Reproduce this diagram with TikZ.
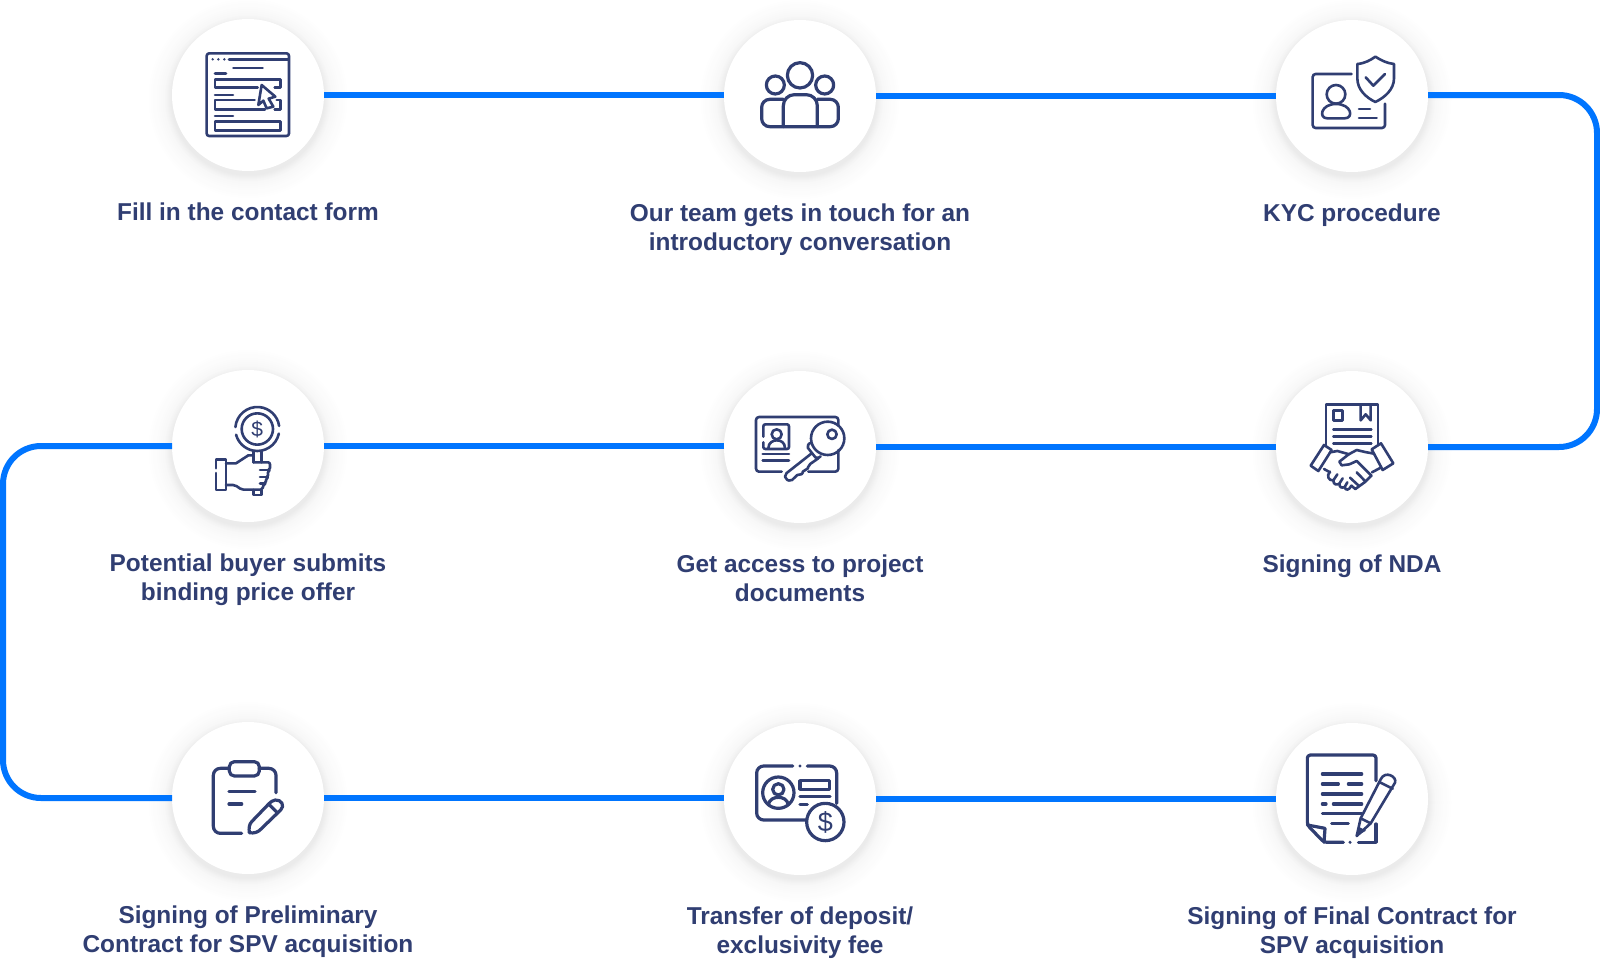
\documentclass[tikz,border=0pt]{standalone}
\usepackage{fontspec}
\setmainfont{Liberation Sans}
\definecolor{ink}{HTML}{303E72}
\definecolor{flowblue}{HTML}{0075FF}
\tikzset{
  stepcircle/.style={circle,fill=white,minimum size=152pt,inner sep=0pt,outer sep=0pt},
  flow/.style={draw=flowblue,line width=6pt},
  lbl/.style={anchor=north,inner sep=0pt,outer sep=0pt,align=center,text=ink,font=\fontsize{24.4}{29}\selectfont\bfseries},
  icon/.style={color=ink,line width=2.6pt,line cap=round,line join=round,x=.33333pt,y=-.33333pt},
  thick icon/.style={icon,line width=3.2pt},
  dollar/.style={inner sep=0pt,text=ink}
}
\newcommand{\softshadow}[2]{%
  \foreach \r/\p in {99/.4,97/.7,95/1,93/1.3,91/1.6,89/2,87/2.4,85/2.8,83/3.4,82/4,81/4.8,80/5.6,79/6.4,78/7.2,77/8}{\fill[black!\p!white] (#1,#2+3.5) circle[radius=\r];}
}
\newcommand{\rl}{\rule{0pt}{20pt}}
\begin{document}
\begin{tikzpicture}[x=1pt,y=-1pt]
\useasboundingbox (0,0) rectangle (1600,958);
\fill[white] (0,0) rectangle (1600,958);
% shadows
\softshadow{248}{95}\softshadow{800}{96}\softshadow{1352}{96}
\softshadow{248}{446}\softshadow{800}{447}\softshadow{1352}{447}
\softshadow{248}{798}\softshadow{800}{799}\softshadow{1352}{799}
% circles
\node[stepcircle] (n1) at (248,95) {};
\node[stepcircle] (n2) at (800,96) {};
\node[stepcircle] (n3) at (1352,96) {};
\node[stepcircle] (n4) at (248,446) {};
\node[stepcircle] (n5) at (800,447) {};
\node[stepcircle] (n6) at (1352,447) {};
\node[stepcircle] (n7) at (248,798) {};
\node[stepcircle] (n8) at (800,799) {};
\node[stepcircle] (n9) at (1352,799) {};
% connectors
\coordinate (cR1) at (1597,95);
\coordinate (cR2) at (1597,447);
\coordinate (cL1) at (3,446);
\coordinate (cL2) at (3,798);
\draw[flow] (n1.east) -- (n1.east -| n2.west);
\draw[flow] (n2.east) -- (n2.east -| n3.west);
\draw[flow,rounded corners=38pt] (n3.east |- cR1) -- (cR1) -- (cR2) -- (n6.east);
\draw[flow] (n6.west) -- (n6.west -| n5.east);
\draw[flow] (n5.west |- n4.east) -- (n4.east);
\draw[flow,rounded corners=38pt] (n4.west) -- (cL1) -- (cL2) -- (n7.west);
\draw[flow] (n7.east) -- (n7.east -| n8.west);
\draw[flow] (n8.east) -- (n8.east -| n9.west);
% labels
\node[lbl] (t1) at (248,200) {\rl Fill in the contact form};
\node[lbl] (t2) at (800,201) {\rl Our team gets in touch for an\\introductory conversation};
\node[lbl] (t3) at (1352,201) {\rl KYC procedure};
\node[lbl] (t4) at (248,551) {\rl Potential buyer submits\\binding price offer};
\node[lbl] (t5) at (800,552) {\rl Get access to project\\documents};
\node[lbl] (t6) at (1352,552) {\rl Signing of NDA};
\node[lbl] (t7) at (248,903) {\rl Signing of Preliminary\\Contract for SPV acquisition};
\node[lbl] (t8) at (800,904) {\rl Transfer of deposit/\\exclusivity fee};
\node[lbl] (t9) at (1352,904) {\rl Signing of Final Contract for\\SPV acquisition};
% icon 1: form
\begin{scope}[shift={(150,0)},icon]
\draw[rounded corners=2.5pt] (170,160) rectangle (417,408);
\fill (188,178) circle[radius=4] (205,178) circle[radius=4] (223,178) circle[radius=4];
\draw (237,179) -- (415,179);
\draw (250,204) -- (338,204);
\draw (195,221) -- (228,221);
\draw (323,263) -- (195,263) -- (195,238) -- (392,238) -- (392,263) -- (374,263);
\draw (195,285) -- (249,285);
\draw (314,300) -- (195,300) -- (195,328) -- (345,328);
\draw (374,328) -- (392,328) -- (392,300) -- (380,300);
\draw (195,348) -- (249,348);
\draw (195,364) rectangle (392,392);
\draw (335,255) -- (376,290) -- (356,296) -- (370,320) -- (350,325) -- (340,302) -- (325,315) -- cycle;
\end{scope}
% icon 2: team
\begin{scope}[shift={(700,0)},thick icon]
\draw (300,226) circle[radius=38];
\draw (226,255) circle[radius=27];
\draw (374,255) circle[radius=27];
\draw[rounded corners=11pt] (250,380) -- (250,284) -- (352,284) -- (352,380);
\draw[rounded corners=8pt] (250,298) -- (185,298) -- (185,380) -- (415,380) -- (415,298) -- (352,298);
\end{scope}
% icon 3: KYC
\begin{scope}[shift={(1250,0)},icon]
\draw[rounded corners=3pt] (305,222) -- (188,222) -- (188,384) -- (405,384) -- (405,311);
\draw (258,283) circle[radius=28];
\draw (232,355) .. controls (205,355) and (212,312) .. (258,312) .. controls (305,312) and (312,355) .. (284,355) -- cycle;
\draw (327,327) -- (360,327);
\draw (327,354) -- (380,354);
\draw (322,192) .. controls (345,190) and (362,180) .. (376,170) .. controls (392,180) and (410,190) .. (432,192) -- (432,235) .. controls (432,268) and (405,292) .. (376,306) .. controls (347,292) and (322,268) .. (322,235) -- cycle;
\draw (347,232) -- (370,257) -- (405,222);
\end{scope}
% icon 4: price offer
\begin{scope}[shift={(150,355)},icon]
\draw ([shift={(185:66)}]322,222) arc[start angle=185,end angle=352,radius=66];
\draw ([shift={(12:66)}]322,222) arc[start angle=12,end angle=165,radius=66];
\draw (322,222) circle[radius=47];
\node[dollar,font=\fontsize{21}{21}\selectfont] (d1) at (322,222) {\$};
\draw (310,288) -- (310,322) (335,288) -- (335,322);
\draw (310,405) -- (310,420) -- (335,420) -- (335,405);
\draw (198,340) -- (198,314) -- (228,314) -- (228,405) -- (198,405) -- (198,354);
\draw (228,325) -- (258,325) -- (295,301) -- (310,301);
\draw[rounded corners=2pt] (310,322) -- (360,322) -- (360,345) -- (353,347) -- (355,366) -- (348,369) -- (348,385) -- (340,387) -- (338,404) -- (275,404) -- (255,390) -- (228,390);
\draw (330,345) -- (356,345) (330,366) -- (352,366) (330,386) -- (345,386);
\end{scope}
% icon 5: document access
\begin{scope}[shift={(700,355)},icon]
\draw[rounded corners=3pt] (245,350) -- (168,350) -- (168,186) -- (415,186) -- (415,212);
\draw[rounded corners=3pt] (415,285) -- (415,350) -- (325,350);
\draw[rounded corners=2pt] (190,245) -- (190,208) -- (267,208) -- (267,282) -- (190,282) -- (190,262);
\draw (230,238) circle[radius=15];
\draw (205,280) .. controls (205,262) and (220,256) .. (230,256) .. controls (242,256) and (255,262) .. (255,280);
\draw (383,250) circle[radius=50];
\draw (396,238) circle[radius=14];
\draw[rounded corners=2pt] (330,264) -- (320,274) -- (350,312) -- (362,304);
\draw[rounded corners=2pt] (335,295) -- (255,358) -- (256,372) -- (272,379) -- (296,356) -- (306,360) -- (310,344) -- (322,346) -- (326,330) -- (355,310);
\draw (188,297) -- (267,297);
\draw (188,316) -- (267,316);
\end{scope}
% icon 6: NDA
\begin{scope}[shift={(1250,355)},icon]
\draw (228,270) -- (228,148) -- (384,148) -- (384,270);
\draw (250,166) rectangle (278,196);
\draw (332,150) -- (332,196) -- (347,178) -- (362,196) -- (362,150);
\draw (250,224) -- (364,224) (250,245) -- (364,245) (250,266) -- (364,266);
\draw (182,332) -- (222,270) -- (245,285) -- (205,348) -- cycle;
\draw (365,283) -- (393,265) -- (430,325) -- (398,345) -- cycle;
\draw (240,292) -- (262,288) -- (298,298);
\draw (372,296) -- (345,291) -- (320,285) -- (296,298) -- (268,320) -- (275,331) -- (298,328) -- (320,318) -- (364,362);
\draw (392,338) -- (366,352) (364,362) -- (345,381) -- (316,402) -- (304,392);
\draw (222,342) -- (240,352);
\draw (240,350) .. controls (228,362) and (236,378) .. (250,376) -- (262,358);
\draw (250,376) .. controls (250,390) and (260,390) .. (268,386) -- (278,370);
\draw (268,386) .. controls (268,398) and (276,400) .. (284,396) -- (292,382);
\draw (284,396) .. controls (286,408) and (298,406) .. (304,392);
\draw (300,368) -- (326,392) (320,352) -- (345,378);
\end{scope}
% icon 7: clipboard
\begin{scope}[shift={(150,710)},thick icon]
\draw[rounded corners=7pt] (275,370) -- (190,370) -- (190,175) -- (238,175);
\draw[rounded corners=7pt] (328,175) -- (378,175) -- (378,248);
\draw[rounded corners=5pt] (238,155) rectangle (328,198);
\draw (237,244) -- (315,244);
\draw (237,282) -- (275,282);
\draw (358,280) -- (305,335) .. controls (298,342) and (296,355) .. (298,368) .. controls (312,371) and (325,366) .. (332,358) -- (392,300) .. controls (405,288) and (395,268) .. (376,270) .. controls (368,271) and (362,276) .. (358,280);
\draw (358,284) -- (382,308);
\end{scope}
% icon 8: deposit
\begin{scope}[shift={(700,710)},thick icon]
\draw[rounded corners=7pt] (278,168) -- (170,168) -- (170,330) -- (320,330);
\draw[rounded corners=7pt] (322,168) -- (410,168) -- (410,280);
\fill (300,168) circle[radius=5];
\draw (235,248) circle[radius=47];
\draw (235,238) circle[radius=17];
\draw (205,284) .. controls (208,268) and (222,262) .. (235,262) .. controls (248,262) and (262,268) .. (265,284);
\draw (300,212) rectangle (388,238);
\draw (300,259) -- (390,259);
\draw (300,284) -- (322,284);
\draw[fill=white] (376,336) circle[radius=56];
\node[dollar,font=\fontsize{27}{27}\selectfont] (d2) at (376,336) {\$};
\end{scope}
% icon 9: final contract
\begin{scope}[shift={(1250,710)},thick icon]
\draw[rounded corners=3pt] (280,397) -- (222,397) -- (172,345) -- (172,135) -- (378,135) -- (378,212);
\draw (378,342) -- (378,397) -- (325,397);
\fill (300,397) circle[radius=5];
\draw (172,345) -- (225,355) -- (222,397);
\draw (217,192) -- (335,192);
\draw (217,222) -- (265,222) (295,222) -- (335,222);
\draw (217,252) -- (335,252);
\draw (217,282) -- (228,282) (250,282) -- (335,282);
\draw (217,311) -- (335,311);
\draw (245,340) -- (295,340);
\draw[line width=2.6pt] (392,208) -- (332,325) -- (320,378) -- (362,340) -- (435,218) .. controls (442,200) and (405,180) .. (392,208) -- cycle;
\draw[line width=2.6pt] (332,325) -- (362,340) (388,216) -- (428,236);
\fill (320,378) -- (326,350) -- (348,362) -- cycle;
\end{scope}
\end{tikzpicture}
\end{document}
